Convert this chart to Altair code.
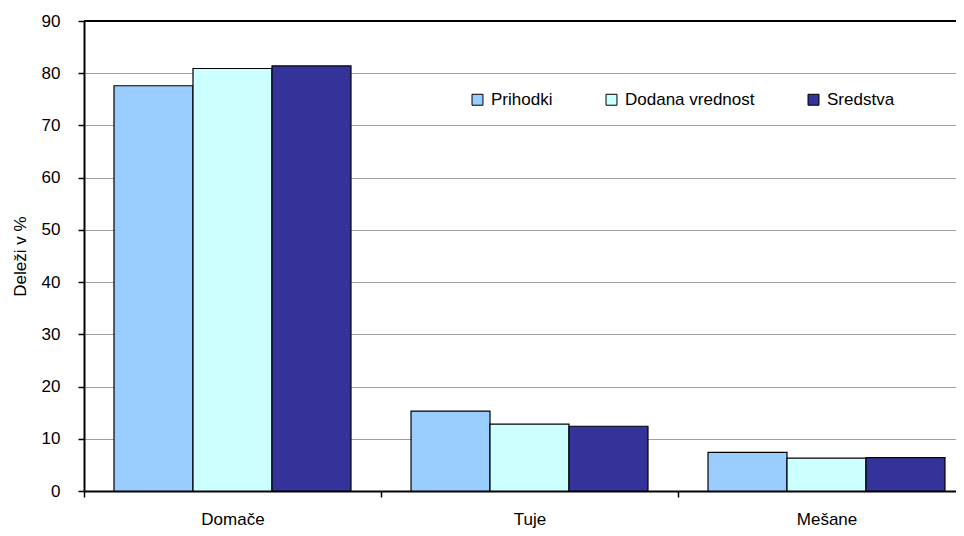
import altair as alt
import pandas as pd

categories = ["Domače", "Tuje", "Mešane"]
series = ["Prihodki", "Dodana vrednost", "Sredstva"]
prihodki = [77.6, 15.3, 7.4]
dodana = [80.9, 12.8, 6.3]
sredstva = [81.4, 12.4, 6.4]
colors = ["#99CCFF", "#CCFFFF", "#333399"]
y_ticks = list(range(0, 91, 10))

rows = []
for i, c in enumerate(categories):
    for s, vals in zip(series, [prihodki, dodana, sredstva]):
        rows.append({"kat": c, "serija": s, "vrednost": vals[i]})
df = pd.DataFrame(rows)

FONT = "Liberation Sans"
FS = 17

y_enc = alt.Y("vrednost:Q", title="Deleži v %",
              scale=alt.Scale(domain=[0, 90], nice=False),
              axis=alt.Axis(values=y_ticks, labelFontSize=FS, labelFont=FONT,
                            labelColor="black", labelPadding=18, tickSize=6, tickColor="black",
                            tickWidth=1.5, domainColor="black", domainWidth=2,
                            gridColor="#a0a0a0", gridWidth=1,
                            titleFont=FONT, titleFontSize=FS, titleFontWeight="normal",
                            titleColor="black", titlePadding=12))

bars = alt.Chart(df).mark_bar(stroke="black", strokeWidth=1.2).encode(
    x=alt.X("kat:N", sort=categories, title=None,
            scale=alt.Scale(paddingInner=0, paddingOuter=0, range=[0, 891]),
            axis=alt.Axis(labelAngle=0, labelFontSize=FS, labelFont=FONT, labelColor="black",
                          labelPadding=14, tickBand="extent", tickSize=6, tickColor="black",
                          tickWidth=1.5, domainColor="black", domainWidth=2, grid=False)),
    xOffset=alt.XOffset("serija:N", sort=series,
                        scale=alt.Scale(paddingInner=0, paddingOuter=0.38)),
    y=y_enc,
    color=alt.Color("serija:N", sort=series,
                    scale=alt.Scale(domain=series, range=colors),
                    legend=alt.Legend(title=None, orient="none", legendX=385, legendY=70,
                                      direction="horizontal", columns=3, columnPadding=50,
                                      symbolType="square", symbolSize=120,
                                      symbolStrokeColor="black", symbolStrokeWidth=1,
                                      labelFont=FONT, labelFontSize=FS, labelColor="black",
                                      labelOffset=5)),
)

top_line = alt.Chart(pd.DataFrame({"v": [90]})).mark_rule(color="black", strokeWidth=2).encode(
    y=alt.Y("v:Q")
)

chart = alt.layer(bars, top_line).properties(
    width=872, height=470,
    autosize=alt.AutoSizeParams(type="none"),
    padding={"left": 76, "top": 13, "right": 0, "bottom": 37},
).configure_view(
    stroke=None
).configure(background="white")

chart.save("out.html", embed_options={"renderer": "svg", "actions": False})
